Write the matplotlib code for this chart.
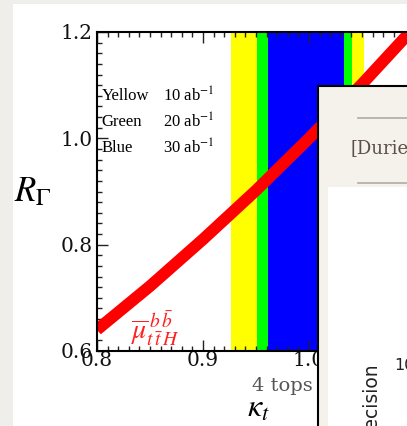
import matplotlib
matplotlib.use("Agg")
import matplotlib.pyplot as plt
from matplotlib.patches import Rectangle
from matplotlib.ticker import MultipleLocator

plt.rcParams['mathtext.fontset'] = 'stix'

# ---- data ----
kappa_t = [0.80, 0.85, 0.90, 0.95, 1.00, 1.05, 1.10]
r_gamma = [0.64, 0.722, 0.81, 0.902, 1.00, 1.102, 1.21]
band_names = ["Yellow", "Green", "Blue"]
band_lumi = ["10 ab$^{-1}$", "20 ab$^{-1}$", "30 ab$^{-1}$"]
band_lo = [0.926, 0.951, 0.961]
band_hi = [1.052, 1.041, 1.033]
band_colors = ["#ffff00", "#00ff00", "#0000ff"]
xticks = [0.8, 0.9, 1.0, 1.1]
yticks = [0.6, 0.8, 1.0, 1.2]

W, H = 407, 426
fig = plt.figure(figsize=(W / 100, H / 100), dpi=100, facecolor="white")

def fx(x):
    return x / W

def fy(y):
    return 1 - y / H

# slide background strips
fig.add_artist(Rectangle((0, 0), fx(13), 1, transform=fig.transFigure,
                         facecolor="#efeeea", edgecolor="none", zorder=0))
fig.add_artist(Rectangle((0, fy(4)), 1, 1 - fy(4), transform=fig.transFigure,
                         facecolor="#efeeea", edgecolor="none", zorder=0))

# main axes (extends past the right edge of the picture)
left, right, top, bottom = 97, 97 + 424, 32, 351
ax = fig.add_axes([fx(left), fy(bottom), fx(right - left), fy(top) - fy(bottom)])
ax.set_xlim(0.8, 1.2)
ax.set_ylim(0.6, 1.2)

for lo, hi, c in zip(band_lo, band_hi, band_colors):
    ax.axvspan(lo, hi, color=c, lw=0, zorder=1)

ax.plot(kappa_t, r_gamma, color="#ff0000", lw=8.5, solid_capstyle="butt", zorder=3)

for sp in ax.spines.values():
    sp.set_linewidth(1.5)
    sp.set_zorder(5)

ax.set_xticks(xticks)
ax.set_yticks(yticks)
ax.set_xticklabels([f"{v:.1f}" for v in xticks])
ax.set_yticklabels([f"{v:.1f}" for v in yticks])
ax.xaxis.set_minor_locator(MultipleLocator(0.01))
ax.yaxis.set_minor_locator(MultipleLocator(0.02))
ax.tick_params(which="both", direction="in", top=True, right=True, width=1.0, color="#222222")
ax.tick_params(which="major", length=8)
ax.tick_params(which="minor", length=3.6)
ax.tick_params(axis="y", which="major", pad=3)
ax.tick_params(axis="x", which="major", pad=0)
for lab in ax.get_xticklabels() + ax.get_yticklabels():
    lab.set_fontfamily("DejaVu Serif")
    lab.set_fontsize(14.5)
    lab.set_color("#111111")

# legend-like text
ys = [1.08, 1.031, 0.982]
for name, lum, yv in zip(band_names, band_lumi, ys):
    ax.text(0.8045, yv, name, fontsize=12, family="Liberation Serif", va="center", ha="left", zorder=6)
    ax.text(0.862, yv, lum, fontsize=12, family="Liberation Serif", va="center", ha="left", zorder=6)

ax.text(0.855, 0.642, r"$\overline{\mu}^{\,b\,\bar{b}}_{t\,\bar{t}\,H}$", color="#ff2020",
        fontsize=20, ha="center", va="center", zorder=6)

# axis labels as figure text
fig.text(fx(33), fy(191), r"$R_\Gamma$", fontsize=25, ha="center", va="center")
fig.text(fx(282), fy(386), "4 tops", fontsize=14, family="DejaVu Serif", color="#555555",
         ha="center", va="center")
fig.text(fx(258), fy(408), r"$\kappa_t$", fontsize=23, ha="center", va="center")

# overlapping slide panel
fig.add_artist(Rectangle((fx(318), -0.1), 1, fy(86) + 0.1, transform=fig.transFigure,
                         facecolor="#f5f2ec", edgecolor="black", lw=1.5, zorder=20))
fig.add_artist(Rectangle((fx(328), -0.1), 1, fy(187) + 0.1, transform=fig.transFigure,
                         facecolor="white", edgecolor="none", zorder=21))
fig.add_artist(plt.Line2D([fx(358), 1], [fy(118), fy(118)], transform=fig.transFigure,
                          color="#b0aca4", lw=1.2, zorder=22))
fig.add_artist(plt.Line2D([fx(358), 1], [fy(183), fy(183)], transform=fig.transFigure,
                          color="#b0aca4", lw=1.2, zorder=22))
fig.text(fx(351), fy(148), "[Durieux", fontsize=13, family="DejaVu Serif", color="#5a5048",
         ha="left", va="center", zorder=23)
fig.text(fx(371), fy(446), "Precision", fontsize=13.5, family="DejaVu Sans", color="#222222",
         rotation=90, ha="center", va="bottom", zorder=23)
fig.text(fx(394), fy(365), "10", fontsize=11.5, family="DejaVu Sans", color="#222222",
         ha="left", va="center", zorder=23)

fig.savefig("out.png", dpi=100, facecolor=fig.get_facecolor())
